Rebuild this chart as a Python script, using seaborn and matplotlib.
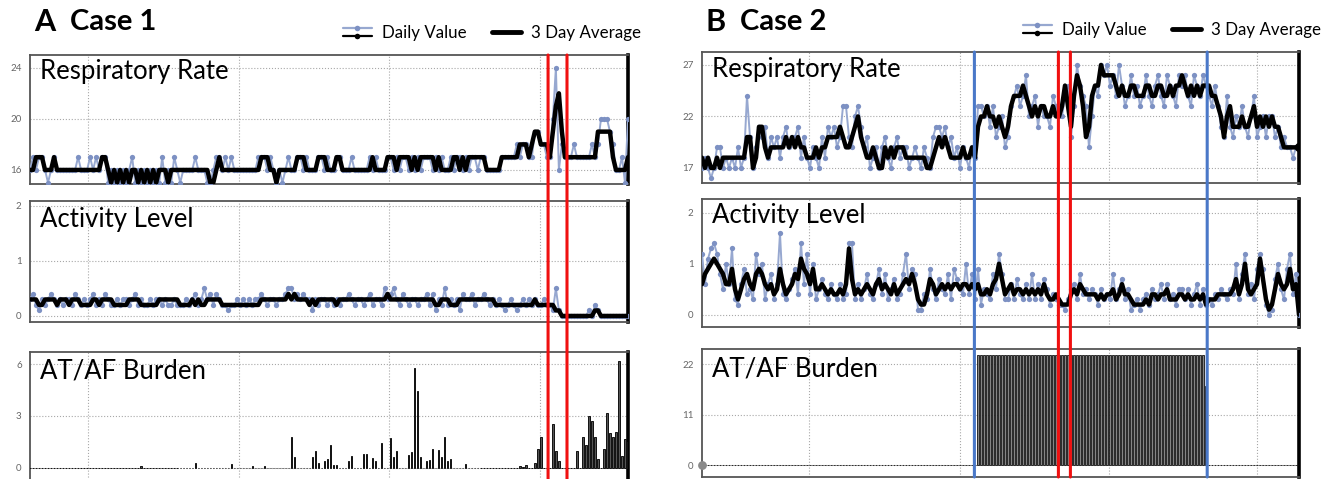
import numpy as np
import matplotlib
matplotlib.use("Agg")
import matplotlib.pyplot as plt
import seaborn as sns
from matplotlib.lines import Line2D
from matplotlib.legend_handler import HandlerBase
from matplotlib.patches import ConnectionPatch

# ---------------- DATA ----------------
days = np.arange(200)

case1_resp_daily = [
    16,17,16,17,17,16,15,16,17,16, 16,16,16,16,16,16,17,16,16,16,
    17,16,17,16,17,17,15,16,15,16, 15,16,15,16,17,15,16,15,16,15,
    16,15,16,15,17,15,16,15,17,16, 15,16,16,16,16,17,16,16,16,15,
    15,16,17,17,16,17,16,17,16,16, 16,16,16,16,16,16,17,17,17,16,
    17,16,15,16,15,16,17,16,16,17, 17,16,17,16,16,16,17,17,16,17,
    16,16,17,17,16,16,16,17,16,16, 16,16,16,17,16,17,16,16,16,17,
    17,16,17,16,17,17,16,17,16,17, 16,17,17,17,16,17,16,17,16,16,
    17,16,17,17,16,17,16,17,17,16, 17,17,16,16,16,16,16,17,17,17,
    17,17,18,17,18,18,17,17,19,19, 18,18,17,17,20,24,16,18,17,17,
    17,18,17,17,17,17,17,18,17,18, 20,20,20,19,18,16,16,17,15,20]
case1_resp_avg = [
    16,16,17,17,17,16,16,16,17,16, 16,16,16,16,16,16,16,16,16,16,
    16,16,16,16,17,17,16,15,16,15, 16,15,16,15,16,16,15,16,15,16,
    15,16,15,16,16,16,15,16,16,16, 16,16,16,16,16,16,16,16,16,16,
    15,15,16,17,16,16,16,16,16,16, 16,16,16,16,16,16,16,17,17,17,
    16,16,15,16,16,16,16,16,16,17, 17,17,16,16,16,16,17,17,17,16,
    16,16,17,17,16,16,16,16,16,16, 16,16,16,16,17,16,16,16,16,17,
    17,17,16,17,17,17,17,16,17,16, 17,17,17,17,17,16,17,16,16,16,
    16,17,17,16,17,16,17,17,17,17, 17,17,16,16,16,16,16,17,17,17,
    17,17,17,18,18,18,17,18,19,19, 18,18,18,17,19,21,22,19,17,17,
    17,17,17,17,17,17,17,17,17,19, 19,19,19,19,17,16,16,16,16,17]
case1_act_daily = [
    .3,.4,.2,.1,.3,.2,.3,.4,.3,.2, .3,.2,.3,.3,.2,.4,.3,.2,.3,.2,
    .3,.4,.2,.3,.2,.4,.3,.2,.2,.3, .2,.3,.3,.2,.3,.4,.2,.3,.2,.2,
    .3,.2,.3,.3,.2,.3,.2,.2,.3,.2, .2,.2,.3,.2,.3,.4,.2,.3,.5,.3,
    .4,.2,.4,.3,.2,.2,.1,.2,.2,.3, .2,.3,.2,.3,.2,.3,.3,.4,.3,.2,
    .3,.3,.2,.3,.3,.4,.5,.5,.3,.4, .3,.4,.3,.3,.1,.3,.2,.3,.3,.2,
    .3,.2,.3,.2,.3,.3,.4,.3,.2,.3, .3,.2,.3,.4,.2,.3,.3,.2,.5,.3,
    .4,.5,.3,.2,.4,.3,.2,.3,.3,.2, .3,.3,.4,.2,.4,.1,.3,.2,.5,.2,
    .3,.2,.3,.1,.4,.3,.3,.4,.2,.3, .3,.4,.3,.2,.3,.2,.3,.2,.1,.2,
    .3,.2,.1,.2,.3,.2,.3,.2,.3,.2, .2,.3,.2,.2,.1,.5,.1,.0,.0,.0,
    .0,.0,.0,.0,.0,.0,.1,.0,.2,.1, .0,.0,.0,.0,.0,.0,.0,.0,.0,.0]
case1_act_avg = [
    .3,.3,.3,.2,.2,.3,.3,.3,.3,.2, .3,.3,.3,.2,.3,.3,.3,.2,.2,.2,
    .2,.3,.3,.2,.3,.3,.3,.3,.2,.2, .2,.2,.2,.3,.3,.3,.3,.2,.2,.2,
    .2,.2,.2,.3,.3,.3,.3,.3,.3,.3, .2,.2,.2,.2,.3,.2,.3,.2,.2,.3,
    .3,.3,.3,.3,.2,.2,.2,.2,.2,.2, .2,.2,.2,.2,.2,.2,.2,.3,.3,.3,
    .3,.3,.3,.3,.3,.3,.4,.3,.4,.3, .3,.3,.3,.2,.3,.2,.3,.3,.3,.3,
    .3,.3,.2,.3,.3,.3,.3,.3,.3,.3, .3,.3,.3,.3,.3,.3,.3,.3,.3,.4,
    .3,.3,.3,.3,.3,.3,.3,.3,.3,.3, .3,.3,.3,.3,.3,.2,.2,.3,.3,.3,
    .2,.2,.2,.3,.3,.3,.3,.3,.3,.3, .3,.3,.3,.3,.3,.2,.2,.2,.2,.2,
    .2,.2,.2,.2,.2,.2,.2,.2,.3,.2, .2,.2,.2,.2,.2,.1,.1,.0,.0,.0,
    .0,.0,.0,.0,.0,.0,.0,.0,.1,.1, .0,.0,.0,.0,.0,.0,.0,.0,.0,.0]
case1_burden = [
    0,0,0,0,0,0,0,0,0,0, 0,0,0,0,0,0,0,0,0,0,
    0,0,0,0,0,0,0,0,0,0, 0,0,0,0,0,0,0,.1,0,0,
    0,0,0,0,0,0,0,0,0,0, 0,0,0,0,0,.3,0,0,0,0,
    0,0,0,0,0,0,0,.25,0,0, 0,0,0,0,.1,0,0,0,.1,0,
    0,0,0,0,0,0,0,1.8,.6,0, 0,0,0,0,.65,.95,.3,0,.4,.5,
    1.3,.15,.15,0,0,0,.4,.7,0,0, 0,.8,.8,0,.55,.4,0,1.45,0,0,
    1.7,.65,.95,0,0,0,.75,.9,5.75,4.45, .6,0,.4,.45,1.1,0,1.05,.65,1.8,.4,
    .5,0,0,0,0,.25,0,0,0,0, 0,0,0,0,0,0,0,0,0,0,
    0,0,0,.1,.05,.15,0,0,.3,1.1, 1.8,0,0,0,2.55,.95,.4,0,0,0,
    0,0,.95,0,1.8,1.3,3.0,2.7,1.8,.5, 0,1.1,3.15,2.0,1.8,2.1,6.2,.7,1.65,1.5]
case1_red_days = [172.4, 178.7]

case2_resp_daily = [
    17,18,17,16,17,19,19,17,18,17, 18,17,19,17,18,24,20,17,19,21,
    20,21,18,20,19,20,18,20,21,19, 20,20,21,18,20,18,17,19,18,17,
    20,18,21,20,21,19,20,23,23,20, 19,22,23,21,19,20,17,18,19,17,
    19,20,18,17,19,20,18,19,19,17, 18,19,18,17,19,18,17,20,21,21,
    20,21,19,20,18,19,17,19,18,17, 19,18,23,23,22,23,21,23,20,21,
    22,19,20,23,24,25,23,24,26,22, 23,24,21,23,22,22,21,24,23,22,
    22,24,25,20,23,27,25,24,23,19, 22,25,24,27,26,27,25,26,24,27,
    25,23,24,26,24,25,23,24,26,24, 23,25,26,24,23,26,25,24,23,26,
    25,26,24,23,26,25,24,26,25,24, 23,25,23,21,20,24,21,20,22,21,
    23,21,20,22,24,20,21,22,20,22, 22,20,21,19,20,19,19,18,19,19]
case2_resp_avg = [
    18,17,18,17,17,18,17,18,18,18, 18,18,18,18,18,20,20,17,18,21,
    21,19,18,19,19,19,19,19,20,19, 20,19,20,19,19,18,18,18,19,18,
    19,19,20,20,20,20,21,20,19,19, 20,21,22,20,19,18,18,19,18,17,
    17,19,18,19,18,19,19,19,18,18, 18,18,18,18,18,17,17,18,19,20,
    19,20,19,18,18,18,18,19,18,18, 19,18,21,22,22,23,22,22,21,22,
    21,20,21,23,24,24,24,25,24,23, 22,23,22,23,23,22,22,23,22,22,
    23,25,23,21,24,26,25,23,20,21, 24,25,25,27,26,26,26,26,25,24,
    25,24,24,25,25,24,24,24,25,25, 24,24,25,25,24,24,25,24,25,25,
    26,25,24,25,24,25,24,25,25,25, 24,24,23,22,20,22,23,21,21,21,
    22,21,21,22,23,21,22,21,22,21, 22,21,21,20,19,19,19,19,19,19]
case2_act_daily = [
    1.2,.6,1.1,1.3,1.4,1.2,.8,.5,1.0,.6, 1.3,.3,.2,.6,.9,.4,.5,.3,1.2,.8,
    1.0,.3,.6,.8,.3,.6,1.6,.4,.3,.5, .7,.9,.4,1.4,.6,1.2,.4,1.0,.3,.5,
    .7,.4,.3,.6,.4,.3,.6,.3,.4,1.4, 1.4,.3,.6,.3,.5,.8,.4,.3,.6,.9,
    .4,.8,.3,.5,.7,.3,.4,.8,1.2,.5, .9,.8,.1,.1,.4,.3,.9,.5,.3,.7,
    .5,.4,.8,.3,.9,.7,.5,.4,1.0,.4, .8,.3,.9,.2,.5,.4,.3,.8,.5,1.2,
    .8,.3,.3,.6,.3,.7,.4,.3,.6,.3, .8,.3,.6,.3,.7,.5,.2,.4,.3,.2,
    .2,.1,.3,.5,.6,.3,.8,.4,.5,.3, .5,.4,.2,.5,.3,.4,.3,.8,.3,.5,
    .7,.3,.5,.1,.2,.3,.1,.3,.4,.2, .5,.3,.4,.6,.3,.6,.3,.4,.2,.5,
    .5,.3,.5,.2,.4,.6,.2,.5,.2,.3, .2,.4,.3,.5,.4,.3,.5,.4,1.0,.3,
    .8,1.2,.4,.6,.3,.9,1.2,.9,.2,.0, .1,.7,1.0,.5,.3,.9,1.2,.4,.8,.0]
case2_act_avg = [
    .6,.8,.9,1.0,1.1,1.0,.9,.8,.6,.6, .9,.5,.3,.5,.7,.8,.6,.5,.8,.9,
    .8,.6,.5,.6,.4,.5,.9,.6,.4,.5, .6,.8,.7,1.1,.9,.8,.6,.9,.5,.5,
    .6,.5,.4,.5,.4,.4,.5,.4,.6,1.3, .7,.4,.5,.4,.5,.6,.5,.4,.6,.7,
    .5,.6,.5,.4,.6,.4,.5,.6,.7,.6, .8,.6,.3,.2,.2,.4,.7,.6,.4,.5,
    .6,.5,.6,.5,.6,.6,.5,.6,.6,.5, .6,.5,.6,.4,.4,.5,.4,.6,.7,1.0,
    .7,.4,.5,.6,.4,.5,.5,.4,.5,.4, .5,.4,.5,.4,.6,.4,.3,.3,.4,.3,
    .2,.2,.2,.4,.5,.4,.6,.5,.4,.4, .4,.4,.3,.4,.3,.4,.4,.5,.3,.4,
    .6,.4,.4,.3,.2,.2,.2,.2,.3,.2, .4,.4,.3,.4,.4,.5,.3,.3,.3,.4,
    .4,.3,.4,.3,.3,.4,.3,.4,.2,.3, .3,.3,.4,.4,.4,.4,.4,.5,.7,.4,
    .6,1.0,.5,.4,.5,.6,1.1,.7,.3,.1, .2,.5,.8,.6,.5,.6,.9,.5,.6,.0]
case2_burden = [
    0,0,0,0,0,0,0,0,0,0, 0,0,0,0,0,0,0,0,0,0,
    0,0,0,0,0,0,0,0,0,0, 0,0,0,0,0,0,0,0,0,0,
    0,0,0,0,0,0,0,0,0,0, 0,0,0,0,0,0,0,0,0,0,
    0,0,0,0,0,0,0,0,0,0, 0,0,0,0,0,0,0,0,0,0,
    0,0,0,0,0,0,0,0,0,0, 0,0,24,24,24,24,24,24,24,24,
    24,24,24,24,24,24,24,24,24,24, 24,24,24,24,24,24,24,24,24,24,
    24,24,24,24,24,24,24,24,24,24, 24,24,24,24,24,24,24,24,24,24,
    24,24,24,24,24,24,24,24,24,24, 24,24,24,24,24,24,24,24,24,24,
    24,24,24,24,24,24,24,24,17.3,0, 0,0,0,0,0,0,0,0,0,0,
    0,0,0,0,0,0,0,0,0,0, 0,0,0,0,0,0,0,0,0,0]
case2_red_days = [118.8, 122.8]
case2_blue_days = [90.8, 168.4]

# ---------------- STYLE ----------------
sns.set_theme(style="white")
plt.rcParams["font.family"] = ["Lato", "DejaVu Sans"]
plt.rcParams["text.color"] = "black"

BLUE_LINE = "#97a8d0"
BLUE_MARK = "#7d91c3"
RED = "#f01010"
EVBLUE = "#4a78c8"

W, H = 1335, 479
fig = plt.figure(figsize=(W / 100, H / 100), dpi=100)


def ax_at(left, top, right, bottom):
    return fig.add_axes([left / W, 1 - bottom / H, (right - left) / W, (bottom - top) / H])


def style(ax, ylim, yticks, xgrid):
    ax.set_xlim(0, 199)
    ax.set_ylim(*ylim)
    ax.set_yticks(yticks)
    ax.set_yticklabels([str(t) for t in yticks])
    ax.set_xticks(xgrid)
    ax.set_xticklabels([])
    ax.tick_params(length=0, labelsize=7, colors="#666666", pad=6)
    ax.grid(True, ls=":", lw=0.8, color="#a8a8a8")
    ax.set_axisbelow(True)
    for s in ["left", "top", "bottom"]:
        ax.spines[s].set_color("#555555")
        ax.spines[s].set_linewidth(1.3)
    ax.spines["right"].set_color("black")
    ax.spines["right"].set_linewidth(2.6)
    ax.set_xlabel("")
    ax.set_ylabel("")


def lines(ax, daily, avg):
    sns.lineplot(x=days, y=daily, ax=ax, color=BLUE_LINE, lw=1.4, marker="o",
                 markersize=3.8, markerfacecolor=BLUE_MARK, markeredgewidth=0, zorder=3)
    sns.lineplot(x=days, y=avg, ax=ax, color="black", lw=3.2, zorder=4)


def bars(ax, vals, width, face, edge, lw):
    sns.barplot(x=days, y=vals, ax=ax, native_scale=True, width=width, color=face,
                edgecolor=edge, linewidth=lw, errorbar=None, saturation=1, zorder=3)


def label(ax, text, ypos):
    ax.text(0.017, ypos, text, transform=ax.transAxes, fontsize=18.5, va="center",
            ha="left", color="black", zorder=6)


class StackedHandler(HandlerBase):
    def create_artists(self, legend, orig_handle, xdescent, ydescent, width, height,
                       fontsize, trans):
        x0, x1 = -xdescent, -xdescent + width
        xm = (x0 + x1) / 2
        arts = []
        for frac, col, mc in [(0.85, BLUE_LINE, BLUE_MARK), (0.2, "black", "black")]:
            y = -ydescent + height * frac
            ln = Line2D([x0, xm, x1], [y, y, y], color=col, lw=1.6, marker="o",
                        markersize=4, markevery=[1], markerfacecolor=mc,
                        markeredgewidth=0, transform=trans)
            arts.append(ln)
        return arts


def legend(anchor):
    h1 = Line2D([], [], color=BLUE_LINE)
    h2 = Line2D([], [], color="black", lw=3.5)
    fig.legend([h1, h2], ["Daily Value", "3 Day Average"], handler_map={h1: StackedHandler()},
               loc="center right", bbox_to_anchor=anchor, ncol=2, frameon=False,
               fontsize=12.2, handlelength=1.7, columnspacing=1.5, handletextpad=0.6,
               borderaxespad=0, borderpad=0, labelcolor="black")


def vline(ax_top, ax_bot, x, color):
    con = ConnectionPatch(xyA=(x, 1), coordsA=ax_top.get_xaxis_transform(),
                          xyB=(x, 0), coordsB=ax_bot.get_xaxis_transform(),
                          color=color, lw=2.2, shrinkA=0, shrinkB=0, zorder=5)
    fig.add_artist(con)


# ---------------- CASE 1 ----------------
gridA = [19.3, 69.4, 119.4, 169.6]
a1 = ax_at(30, 55, 628, 184)
a2 = ax_at(30, 201, 628, 322)
a3 = ax_at(30, 352, 628, 481)
lines(a1, case1_resp_daily, case1_resp_avg)
style(a1, (14.9, 25.0), [16, 20, 24], gridA)
lines(a2, case1_act_daily, case1_act_avg)
style(a2, (-0.11, 2.09), [0, 1, 2], gridA)
bars(a3, case1_burden, 0.5, "#555555", "#111111", 0.7)
style(a3, (-0.76, 6.7), [0, 3, 6], gridA)
label(a1, "Respiratory Rate", 0.87)
label(a2, "Activity Level", 0.85)
label(a3, "AT/AF Burden", 0.85)
for d in case1_red_days:
    vline(a1, a3, d, RED)
fig.text(34 / W, 1 - 22 / H, "A", fontsize=22, fontweight="bold", va="center", color="black")
fig.text(70 / W, 1 - 22 / H, "Case 1", fontsize=21, fontweight="bold", va="center", color="black")
legend((641 / W, 1 - 33 / H))

# ---------------- CASE 2 ----------------
gridB = [35.6, 85.9, 135.8, 185.0]
b1 = ax_at(702, 52, 1299, 183)
b2 = ax_at(702, 199, 1299, 327)
b3 = ax_at(702, 349, 1299, 477)
lines(b1, case2_resp_daily, case2_resp_avg)
sns.scatterplot(x=days[-1:], y=case2_resp_avg[-1:], ax=b1, color="black", s=45,
                linewidth=0, zorder=5)
style(b1, (15.54, 28.26), [17, 22, 27], gridB)
lines(b2, case2_act_daily, case2_act_avg)
style(b2, (-0.24, 2.27), [0, 1, 2], gridB)
bars(b3, case2_burden, 0.7, "#858585", "#111111", 0.6)
sns.scatterplot(x=days[:1], y=case2_burden[:1], ax=b3, color="#8a8a8a", s=40,
                linewidth=0, zorder=5, clip_on=False)
style(b3, (-2.6, 25.3), [0, 11, 22], gridB)
label(b1, "Respiratory Rate", 0.87)
label(b2, "Activity Level", 0.87)
label(b3, "AT/AF Burden", 0.84)
for d in case2_blue_days:
    vline(b1, b3, d, EVBLUE)
for d in case2_red_days:
    vline(b1, b3, d, RED)
fig.text(706 / W, 1 - 22 / H, "B", fontsize=22, fontweight="bold", va="center", color="black")
fig.text(740 / W, 1 - 22 / H, "Case 2", fontsize=21, fontweight="bold", va="center", color="black")
legend((1321 / W, 1 - 30 / H))

fig.savefig("out.png", dpi=100)
